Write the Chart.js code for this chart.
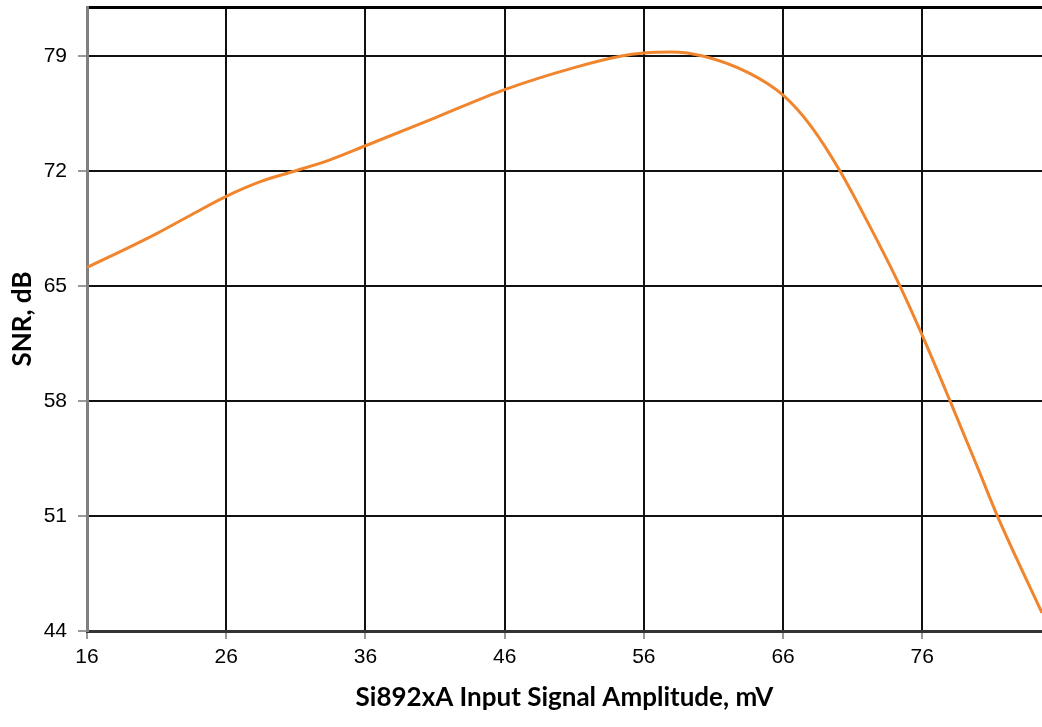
<!DOCTYPE html>
<html>
<head>
<meta charset="utf-8">
<script src="https://cdn.jsdelivr.net/npm/chart.js@4/dist/chart.umd.min.js"></script>
<style>
  body { margin: 0; background: #fff; }
</style>
</head>
<body>
<canvas id="snrChart" width="1042" height="727"></canvas>
<script>
// input amplitude, mV
var amplitude = [16, 18.5, 21, 23.5, 26, 28.5, 31, 33.5, 36, 41, 46, 51, 54.3, 56, 58, 60.3,
    63.5, 66, 68, 70.1, 72.2, 74.4, 76, 78, 80, 81.4, 84.6];
// SNR, dB
var snr = [66.15, 67.15, 68.2, 69.35, 70.47, 71.38, 72.03, 72.71, 73.55, 75.25, 76.97, 78.31, 79.0, 79.2, 79.26, 79.0,
    78.0, 76.63, 74.75, 72.0, 68.7, 65.0, 62.0, 58.0, 53.9, 51.0, 45.1];

// tick labels
var xTicks = [16, 26, 36, 46, 56, 66, 76];
var yTicks = [44, 51, 58, 65, 72, 79];

var points = amplitude.map((a, i) => ({x: a, y: snr[i]}));

// drop the label padding chart.js reserves, the plot box is fixed
function noPad(s) {
    s.paddingTop = 0;
    s.paddingBottom = 0;
    s.paddingLeft = 0;
    s.paddingRight = 0;
}

new Chart("snrChart", {
    type: "line",
    data: {
        datasets: [{
            label: "SNR",
            data: points,
            borderColor: "#F0852D",
            borderWidth: 3,
            pointRadius: 0,
            fill: false,
            cubicInterpolationMode: "monotone"
        }]
    },
    options: {
        responsive: false,
        animation: false,
        layout: {
            padding: {top: 7, left: 0, right: 0, bottom: 0}
        },
        plugins: {
            legend: {display: false},
            tooltip: {enabled: false}
        },
        scales: {
            x: {
                type: "linear",
                min: 16,
                max: 84.6,
                afterBuildTicks: s => { s.ticks = xTicks.map(v => ({value: v})); },
                afterFit: s => { s.height = 96; noPad(s); },
                grid: {color: "#111", lineWidth: 2, tickLength: 8, tickColor: "#999", tickWidth: 2},
                border: {color: "#333", width: 3},
                ticks: {
                    color: "#000",
                    padding: 6,
                    font: {family: "'Liberation Sans', Arial", size: 21}
                },
                title: {
                    display: true,
                    text: "Si892xA Input Signal Amplitude, mV",
                    color: "#000",
                    padding: {top: 0, bottom: 14},
                    font: {family: "Lato, 'Open Sans'", size: 26, weight: "bold"}
                }
            },
            x2: {
                type: "linear",
                position: "top",
                min: 16,
                max: 84.6,
                afterFit: s => { s.height = 0; noPad(s); },
                grid: {display: false, drawTicks: false},
                ticks: {display: false},
                border: {color: "#000", width: 3}
            },
            y: {
                min: 44,
                max: 82,
                afterBuildTicks: s => { s.ticks = yTicks.map(v => ({value: v})); },
                afterFit: s => { s.width = 87; noPad(s); },
                grid: {color: "#111", lineWidth: 2, tickLength: 9, tickColor: "#999", tickWidth: 2},
                border: {color: "#808080", width: 3},
                ticks: {
                    color: "#000",
                    padding: 11,
                    font: {family: "'Liberation Sans', Arial", size: 21}
                },
                title: {
                    display: true,
                    text: "SNR, dB",
                    color: "#000",
                    padding: {top: 7, bottom: 0},
                    font: {family: "Lato, 'Open Sans'", size: 26, weight: "bold"}
                }
            }
        }
    }
});
</script>
</body>
</html>
